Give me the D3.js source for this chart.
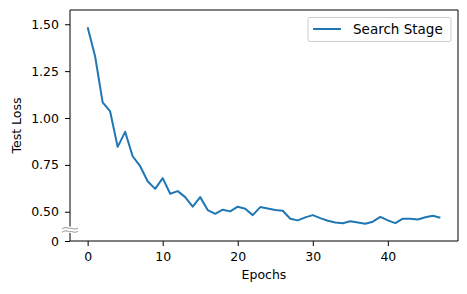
<!doctype html>
<html lang="en">
<head>
  <meta charset="utf-8">
  <title>Test loss - D3</title>
  <style>
    body { margin: 0; background: #fff; }
    text { font-family: "DejaVu Sans", sans-serif; }
  </style>
</head>
<body>
  <svg width="467" height="294"></svg>

  <script src="https://cdn.jsdelivr.net/npm/d3@7"></script>
  <script>
    var epochs = d3.range(48);
    var testLoss = [1.484, 1.328, 1.083, 1.035, 0.846, 0.926, 0.796, 0.743, 0.663, 0.622,
                    0.679, 0.596, 0.610, 0.578, 0.527, 0.578, 0.509, 0.489, 0.511, 0.502,
                    0.527, 0.516, 0.482, 0.525, 0.517, 0.509, 0.505, 0.463, 0.454, 0.470,
                    0.482, 0.466, 0.452, 0.443, 0.439, 0.449, 0.443, 0.436, 0.447, 0.473,
                    0.454, 0.439, 0.463, 0.463, 0.459, 0.471, 0.479, 0.468];
    var xTicks = [0, 10, 20, 30, 40];
    var yTicks = [0, 0.5, 0.75, 1.0, 1.25, 1.5];
    var seriesName = "Search Stage";

    // plot box (note: "top" is a reserved window global, so use other names)
    var plotL = 70, plotR = 458, plotT = 10, plotB = 241;
    var brk = 0.4;   // where the y axis is cut
    var fs = 12.5;

    var x = d3.scaleLinear().domain([-2.35, 49.35]).range([plotL, plotR]);
    // piecewise: 0..brk squeezed, brk..top at normal scale
    var yb = 211.7 + (0.5 - brk) * 188;
    var y = d3.scaleLinear().domain([0, brk, 1.576]).range([plotB, yb, plotT]);

    var svg = d3.select('svg');

    // line
    svg.append('path')
      .datum(epochs)
      .attr('fill', 'none')
      .attr('stroke', '#1f77b4')
      .attr('stroke-width', 2)
      .attr('stroke-linejoin', 'round')
      .attr('d', d3.line().x(i => x(i)).y(i => y(testLoss[i])));

    // x axis
    var xAxis = svg.append('g')
      .attr('transform', 'translate(0,' + plotB + ')')
      .call(d3.axisBottom(x).tickValues(xTicks).tickSize(5).tickPadding(6.5).tickSizeOuter(0));
    xAxis.select('.domain').remove();
    xAxis.selectAll('text').attr('font-size', fs).attr('fill', '#000').style('font-family', '"DejaVu Sans"');
    xAxis.selectAll('line').attr('stroke', '#000').attr('stroke-width', 1);

    // y axis
    var yAxis = svg.append('g')
      .attr('transform', 'translate(' + plotL + ',0)')
      .call(d3.axisLeft(y).tickValues(yTicks).tickSize(5).tickPadding(6)
        .tickFormat(v => v === 0 ? '0' : d3.format('.2f')(v)));
    yAxis.select('.domain').remove();
    yAxis.selectAll('text').attr('font-size', fs).attr('fill', '#000').style('font-family', '"DejaVu Sans"');
    yAxis.selectAll('line').attr('stroke', '#000').attr('stroke-width', 1);

    // spines
    var spine = svg.append('g').attr('stroke', '#000').attr('stroke-width', 1).attr('fill', 'none');
    spine.append('line').attr('x1', plotL).attr('x2', plotR).attr('y1', plotT).attr('y2', plotT);
    spine.append('line').attr('x1', plotL).attr('x2', plotR).attr('y1', plotB).attr('y2', plotB);
    spine.append('line').attr('x1', plotR).attr('x2', plotR).attr('y1', plotT).attr('y2', plotB);
    spine.append('line').attr('x1', plotL).attr('x2', plotL).attr('y1', plotT).attr('y2', yb - 4);
    spine.append('line').attr('x1', plotL).attr('x2', plotL).attr('y1', yb + 2.5).attr('y2', plotB);

    // break marks
    [-2, 1.2].forEach(function (dy) {
      var cy = yb + dy;
      svg.append('path')
        .attr('d', 'M' + (plotL - 8) + ',' + (cy + 0.5) +
          ' C' + (plotL - 4) + ',' + (cy - 2.5) + ' ' + (plotL - 1) + ',' + (cy + 0.5) + ' ' + plotL + ',' + cy +
          ' C' + (plotL + 2) + ',' + (cy - 1) + ' ' + (plotL + 5) + ',' + (cy + 2) + ' ' + (plotL + 8) + ',' + (cy - 0.5))
        .attr('fill', 'none')
        .attr('stroke', '#777')
        .attr('stroke-width', 0.8);
    });

    // axis labels
    svg.append('text')
      .attr('x', (plotL + plotR) / 2).attr('y', 279)
      .attr('text-anchor', 'middle').attr('font-size', fs)
      .text('Epochs');
    svg.append('text')
      .attr('transform', 'translate(20.5,' + ((plotT + plotB) / 2) + ') rotate(-90)')
      .attr('text-anchor', 'middle').attr('font-size', fs)
      .text('Test Loss');

    // legend
    var lg = svg.append('g');
    lg.append('rect')
      .attr('x', 308).attr('y', 17.5).attr('width', 143).attr('height', 24).attr('rx', 2)
      .attr('fill', '#fff').attr('fill-opacity', 0.8)
      .attr('stroke', '#ccc').attr('stroke-width', 1);
    lg.append('line')
      .attr('x1', 313).attr('x2', 341).attr('y1', 29).attr('y2', 29)
      .attr('stroke', '#1f77b4').attr('stroke-width', 2);
    lg.append('text')
      .attr('x', 353).attr('y', 34).attr('font-size', 13.5)
      .text(seriesName);
  </script>
</body>
</html>
